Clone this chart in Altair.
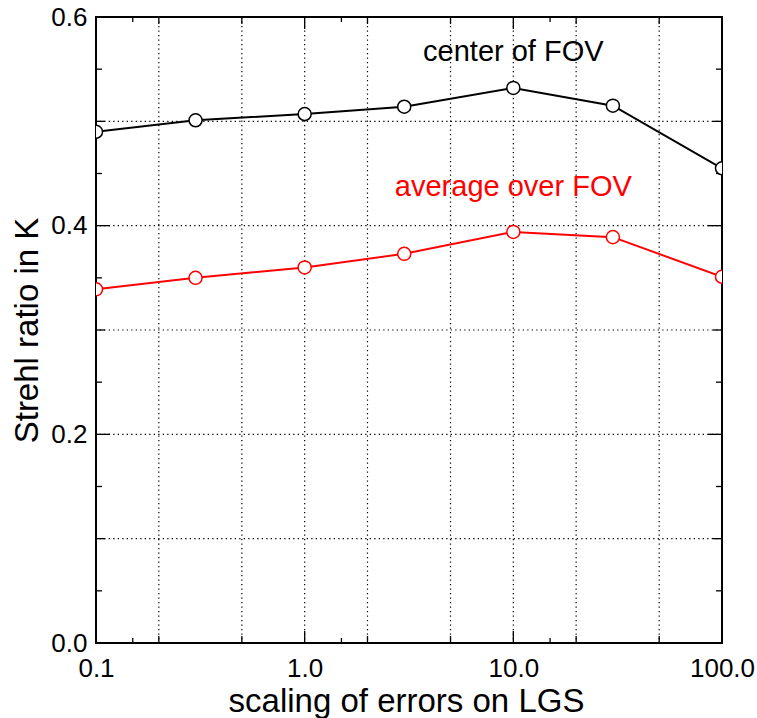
import altair as alt
import pandas as pd

# ---- data ----
scaling = [0.1, 0.3, 1.0, 3.0, 10.0, 30.0, 100.0]
strehl_center = [0.490, 0.501, 0.507, 0.514, 0.532, 0.515, 0.455]
strehl_average = [0.339, 0.350, 0.360, 0.373, 0.394, 0.389, 0.351]

series_names = ["center of FOV", "average over FOV"]
series_colors = ["#000000", "#ff0000"]
label_x = [10.0, 10.0]
label_y = [0.558, 0.428]

x_tick_labels = [0.1, 1.0, 10.0, 100.0]
x_grid = [0.2, 0.5, 1.0, 2.0, 5.0, 10.0, 20.0, 50.0]
x_mid_ticks = [0.2, 0.5, 2.0, 5.0, 20.0, 50.0]
x_minor_ticks = [0.15, 1.5, 15.0]
y_tick_labels = [0.0, 0.2, 0.4, 0.6]
y_grid = [0.1, 0.2, 0.3, 0.4, 0.5]
y_mid_ticks = [0.1, 0.3, 0.5]
y_minor_ticks = [0.05, 0.15, 0.25, 0.35, 0.45, 0.55]

W, H = 626, 626
FONT = "Liberation Sans"

df = pd.DataFrame({
    "scaling": scaling * 2,
    "strehl": strehl_center + strehl_average,
    "series": [series_names[0]] * len(scaling) + [series_names[1]] * len(scaling),
})
labels_df = pd.DataFrame({"x": label_x, "y": label_y, "series": series_names})

xscale = alt.Scale(type="log", domain=[0.1, 100], nice=False)
yscale = alt.Scale(domain=[0, 0.6], nice=False, zero=False)
cscale = alt.Scale(domain=series_names, range=series_colors)

xaxis = alt.Axis(values=x_tick_labels, format=".1f", grid=False, ticks=False, domain=False,
                 labelFont=FONT, labelFontSize=26, labelColor="black", labelPadding=12,
                 labelFlush=False, labelOverlap=False,
                 title="scaling of errors on LGS", titleFont=FONT, titleFontSize=33,
                 titleFontWeight="normal", titleColor="black",
                 titleX=W / 2 - 3, titleY=68, titleBaseline="alphabetic", titleAlign="center")
yaxis = alt.Axis(values=y_tick_labels, format=".1f", grid=False, ticks=False, domain=False,
                 labelFont=FONT, labelFontSize=26, labelColor="black", labelPadding=9,
                 labelFlush=False, labelOverlap=False, labelBaseline="middle",
                 title="Strehl ratio in K", titleFont=FONT, titleFontSize=33,
                 titleFontWeight="normal", titleColor="black", titleAngle=270,
                 titleX=-59, titleY=H / 2, titleBaseline="alphabetic", titleAlign="center")


def X(field):
    return alt.X(field, scale=xscale, axis=xaxis)


def Y(field):
    return alt.Y(field, scale=yscale, axis=yaxis)


layers = []

# grid lines
gx = alt.Chart(pd.DataFrame({"v": x_grid})).mark_rule(
    color="black", strokeWidth=1.2, strokeDash=[1.3, 3.2]
).encode(x=X("v:Q"))
gy = alt.Chart(pd.DataFrame({"v": y_grid})).mark_rule(
    color="black", strokeWidth=1.2, strokeDash=[1.3, 3.2]
).encode(y=Y("v:Q"))
layers += [gx, gy]


def xticks(vals, length):
    d = pd.DataFrame({"v": vals})
    bottom = alt.Chart(d).mark_rule(color="black", strokeWidth=1.3).encode(
        x=X("v:Q"), y=alt.value(H), y2=alt.value(H - length))
    top = alt.Chart(d).mark_rule(color="black", strokeWidth=1.3).encode(
        x=X("v:Q"), y=alt.value(0), y2=alt.value(length))
    return [bottom, top]


def yticks(vals, length):
    d = pd.DataFrame({"v": vals})
    left = alt.Chart(d).mark_rule(color="black", strokeWidth=1.3).encode(
        y=Y("v:Q"), x=alt.value(0), x2=alt.value(length))
    right = alt.Chart(d).mark_rule(color="black", strokeWidth=1.3).encode(
        y=Y("v:Q"), x=alt.value(W), x2=alt.value(W - length))
    return [left, right]


layers += xticks(x_tick_labels, 12) + xticks(x_mid_ticks, 7) + xticks(x_minor_ticks, 5)
layers += yticks(y_tick_labels, 14) + yticks(y_mid_ticks, 9) + yticks(y_minor_ticks, 6)

base = alt.Chart(df)
lines = base.mark_line(strokeWidth=2, clip=True).encode(
    x=X("scaling:Q"),
    y=Y("strehl:Q"),
    color=alt.Color("series:N", scale=cscale, legend=None),
    detail="series:N",
)
points = base.mark_point(shape="circle", size=170, filled=False, fill="white", fillOpacity=1,
                         strokeWidth=1.5, opacity=1, clip=True).encode(
    x=X("scaling:Q"),
    y=Y("strehl:Q"),
    stroke=alt.Stroke("series:N", scale=cscale, legend=None),
)
texts = alt.Chart(labels_df).mark_text(font=FONT, fontSize=29, align="center",
                                       baseline="alphabetic").encode(
    x=X("x:Q"),
    y=Y("y:Q"),
    text=alt.Text("series:N"),
    fill=alt.Fill("series:N", scale=cscale, legend=None),
)
layers += [lines, points, texts]

chart = alt.layer(*layers).properties(
    width=W, height=H,
    autosize=alt.AutoSizeParams(type="none"),
    padding={"left": 96, "top": 17, "right": 35, "bottom": 75},
    background="white",
).configure_view(stroke="black", strokeWidth=2)

chart.save("out.html", embed_options={"renderer": "svg", "actions": False})
